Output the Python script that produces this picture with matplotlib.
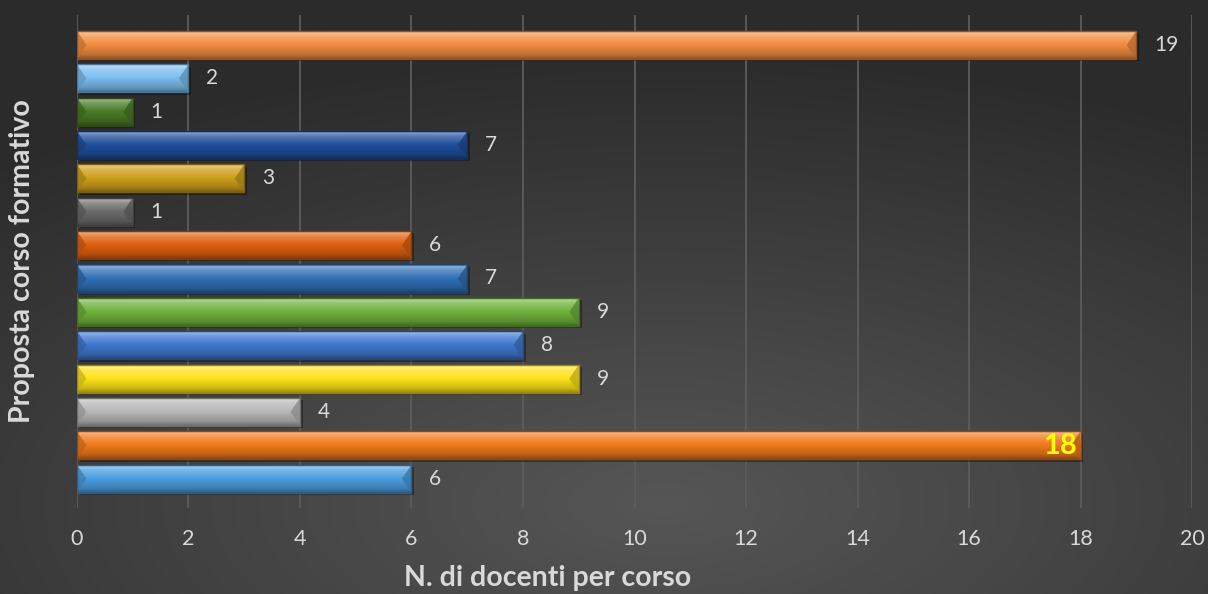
import numpy as np
import matplotlib
matplotlib.use('Agg')
import matplotlib.pyplot as plt
import matplotlib.colors as mcolors

# Data (bottom to top, as drawn)
values = [6, 18, 4, 9, 8, 9, 7, 6, 1, 3, 7, 1, 2, 19]
bar_colors = ['#4a9ee0', '#f07a1c', '#b8b8b8', '#ffe21a', '#3f78d0', '#6fb23c',
              '#2f6fb4', '#e0600f', '#6a6a6a', '#cfa01c', '#1f4f9c', '#4a7a26',
              '#7dbef0', '#f28c40']
xticks = [0, 2, 4, 6, 8, 10, 12, 14, 16, 18, 20]
highlight_value = 18

plt.rcParams['font.family'] = ['Lato', 'DejaVu Sans']

fig = plt.figure(figsize=(12.08, 5.94), dpi=100)

# radial background
bg = fig.add_axes([0, 0, 1, 1], zorder=-10)
yy, xx = np.mgrid[0:1:300j, 0:1:600j]
r = np.sqrt(((xx - 0.55) / 1.0) ** 2 + ((yy - 0.15) / 0.9) ** 2)
r = np.clip(r / 0.85, 0, 1)
c_in = np.array(mcolors.to_rgb('#565656'))
c_out = np.array(mcolors.to_rgb('#2b2b2b'))
img = c_in[None, None, :] * (1 - r[..., None]) + c_out[None, None, :] * r[..., None]
bg.imshow(img, origin='lower', extent=[0, 1, 0, 1], aspect='auto')
bg.axis('off')

ax = fig.add_axes([0.0637, 0.1448, 0.9231, 0.830])
ax.set_facecolor('none')

pos = np.arange(len(values))
h = 0.84

# shadow
ax.barh(pos - 0.07, values, height=h, left=0.05, color='black', alpha=0.35, zorder=2)
bars = ax.barh(pos, values, height=h, color=bar_colors, zorder=3,
               edgecolor='none')

# bevel-ish vertical gradient on each bar
t = np.linspace(0, 1, 40)
blend = np.interp(t, [0, 0.08, 0.2, 0.5, 0.85, 1.0], [-0.25, 0.45, 0.25, 0.0, -0.2, -0.4])
bev_x = 0.17   # bevel depth in data units
for bar, c in zip(bars, bar_colors):
    base = np.array(mcolors.to_rgb(c))
    rows = []
    for b in blend:
        if b >= 0:
            rows.append(base + (1 - base) * b)
        else:
            rows.append(base * (1 + b))
    grad = np.array(rows)[:, None, :]
    x0, y0 = bar.get_x(), bar.get_y()
    w, hh = bar.get_width(), bar.get_height()
    x1, y1 = x0 + w, y0 + hh
    ym = y0 + hh / 2
    im = ax.imshow(grad, extent=[x0, x1, y0, y1], origin='upper',
                   aspect='auto', zorder=4, interpolation='bilinear')
    im.set_clip_path(bar)
    # end bevels (triangles)
    ax.fill([x1, x1, x1 - bev_x], [y0, y1, ym],
            color=tuple(base * 0.75), alpha=0.8, zorder=4.5, linewidth=0)
    ax.fill([x0, x0, x0 + bev_x], [y0, y1, ym],
            color=tuple(base * 0.8), alpha=0.8, zorder=4.5, linewidth=0)
    edge = tuple(base * 0.6)
    ax.barh(ym, w, height=hh, color='none', edgecolor=edge,
            linewidth=1.0, zorder=5)

for p, v in zip(pos, values):
    if v == highlight_value:
        ax.text(v - 0.06, p - 0.03, str(v), ha='right', va='center', color='#ffff00',
                fontsize=21, fontweight='bold', zorder=6)
    else:
        ax.text(v + 0.32, p, str(v), ha='left', va='center', color='#d9d9d9',
                fontsize=15, zorder=6)

ax.set_xlim(0, 20)
ax.set_ylim(-0.88, len(values) - 1 + 0.9)
ax.set_xticks(xticks)
ax.set_yticks([])
ax.grid(axis='x', color='#5c5c5c', linewidth=1.3, zorder=0)
ax.set_axisbelow(True)
for s in ax.spines.values():
    s.set_visible(False)
ax.tick_params(axis='x', length=0, pad=15, labelsize=15.5, labelcolor='#d9d9d9')

fig.text(0.4536, 0.027, 'N. di docenti per corso', ha='center', va='center',
         fontsize=20.5, fontweight='bold', color='#d9d9d9')
fig.text(0.018, 0.56, 'Proposta corso formativo', ha='center', va='center',
         rotation=90, fontsize=20.5, fontweight='bold', color='#d9d9d9')

fig.savefig('out.png', dpi=100)
